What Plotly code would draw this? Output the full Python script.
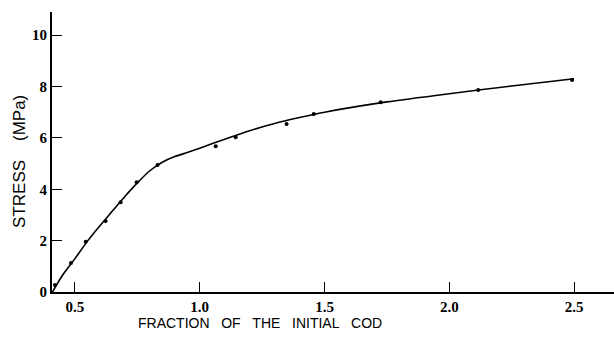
import plotly.graph_objects as go

# Measured points: stress versus fraction of the initial COD
frac_pts = [0.42, 0.484, 0.543, 0.623, 0.683, 0.747, 0.831, 1.064, 1.144, 1.348, 1.457, 1.725, 2.116, 2.492]
stress_pts = [0.27, 1.13, 1.96, 2.76, 3.49, 4.27, 4.94, 5.67, 6.02, 6.54, 6.93, 7.39, 7.86, 8.25]

# Smooth fitted curve
frac_fit = [0.41, 0.45, 0.5, 0.55, 0.6, 0.65, 0.7, 0.75, 0.8, 0.85, 0.9, 0.95, 1.0,
            1.1, 1.2, 1.3, 1.4, 1.5, 1.75, 2.0, 2.25, 2.5]
stress_fit = [0.0, 0.65, 1.3, 1.98, 2.58, 3.15, 3.72, 4.25, 4.72, 5.05, 5.27, 5.43, 5.6,
              5.95, 6.28, 6.56, 6.79, 7.0, 7.4, 7.72, 8.02, 8.3]

x_ticks = [0.5, 1.0, 1.5, 2.0, 2.5]
x_labels = ["0.5", "1.0", "1.5", "2.0", "2.5"]
y_ticks = [0, 2, 4, 6, 8, 10]
y_labels = ["0", "2", "4", "6", "8", "10"]

fig = go.Figure()
fig.add_trace(go.Scatter(
    x=frac_fit, y=stress_fit, mode="lines",
    line=dict(color="black", width=1.6, shape="spline", smoothing=0.6),
    hoverinfo="skip",
))
fig.add_trace(go.Scatter(
    x=frac_pts, y=stress_pts, mode="markers",
    marker=dict(color="black", size=4),
))

tick_font = dict(family="Liberation Serif", size=15, color="black", weight="bold")
fig.update_xaxes(
    range=[0.408, 2.66], tickvals=x_ticks, ticktext=x_labels,
    ticks="inside", ticklen=10, tickwidth=1.2, tickcolor="black",
    showline=True, linecolor="black", linewidth=2,
    showgrid=False, zeroline=False, tickfont=tick_font,
)
fig.update_yaxes(
    range=[0, 10.9], tickvals=y_ticks, ticktext=y_labels,
    ticks="inside", ticklen=10, tickwidth=1.2, tickcolor="black",
    showline=True, linecolor="black", linewidth=2,
    showgrid=False, zeroline=False, tickfont=tick_font, ticklabelstandoff=0,
)

nb = "\u00a0"
title_font = dict(family="Liberation Sans", color="black")
fig.add_annotation(
    text=(nb * 3).join(["FRACTION", "OF", "THE", "INITIAL", "COD"]),
    xref="paper", yref="paper", x=0.37, y=-0.111,
    xanchor="center", yanchor="middle", showarrow=False,
    font=dict(size=14, **title_font),
)
fig.add_annotation(
    text="STRESS" + nb * 4 + "(MPa)",
    xref="paper", yref="paper", x=-0.057, y=0.468,
    xanchor="center", yanchor="middle", textangle=-90, showarrow=False,
    font=dict(size=17, **title_font),
)

fig.update_layout(
    width=614, height=346,
    margin=dict(l=52, r=0, t=12, b=54),
    paper_bgcolor="white", plot_bgcolor="white",
    showlegend=False,
)

fig.write_html("out.html")
